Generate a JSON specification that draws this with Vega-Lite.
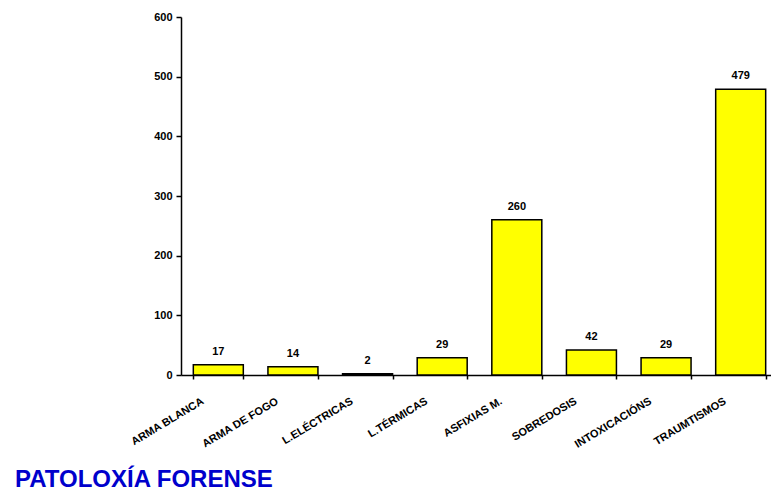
{
  "$schema": "https://vega.github.io/schema/vega-lite/v6.json",
  "autosize": {"type": "none"},
  "padding": {"left": 181, "top": 17, "right": 0, "bottom": 114},
  "width": 590,
  "height": 358,
  "background": "white",
  "title": {
    "text": "PATOLOXÍA FORENSE",
    "orient": "bottom",
    "anchor": "start",
    "frame": "group",
    "dx": -166,
    "offset": 19,
    "font": "Liberation Sans",
    "fontSize": 24,
    "fontWeight": "bold",
    "color": "#0000CC"
  },
  "config": {
    "view": {"stroke": null},
    "font": "Liberation Sans"
  },
  "data": {
    "values": [
      {"categoria": "ARMA BLANCA", "valor": 17},
      {"categoria": "ARMA DE FOGO", "valor": 14},
      {"categoria": "L.ELÉCTRICAS", "valor": 2},
      {"categoria": "L.TÉRMICAS", "valor": 29},
      {"categoria": "ASFIXIAS M.", "valor": 260},
      {"categoria": "SOBREDOSIS", "valor": 42},
      {"categoria": "INTOXICACIÓNS", "valor": 29},
      {"categoria": "TRAUMTISMOS", "valor": 479}
    ]
  },
  "encoding": {
    "x": {
      "field": "categoria",
      "type": "nominal",
      "sort": null,
      "scale": {"range": [0, 597], "paddingInner": 0.33, "paddingOuter": 0.165},
      "axis": {
        "title": null,
        "tickBand": "extent",
        "tickSize": 4,
        "tickColor": "#000000",
        "tickWidth": 1.5,
        "domainColor": "#000000",
        "domainWidth": 1.5,
        "labelAngle": -31,
        "labelAlign": "right",
        "labelBaseline": "top",
        "labelOffset": -19,
        "labelPadding": 16,
        "labelFont": "Liberation Sans",
        "labelFontSize": 11,
        "labelFontWeight": "bold",
        "labelColor": "#000000"
      }
    },
    "y": {
      "field": "valor",
      "type": "quantitative",
      "scale": {"domain": [0, 600], "nice": false},
      "axis": {
        "title": null,
        "values": [0, 100, 200, 300, 400, 500, 600],
        "grid": false,
        "tickSize": 5,
        "tickColor": "#000000",
        "tickWidth": 1.5,
        "domainColor": "#000000",
        "domainWidth": 1.5,
        "labelPadding": 4,
        "labelFont": "Liberation Sans",
        "labelFontSize": 11,
        "labelFontWeight": "bold",
        "labelColor": "#000000"
      }
    }
  },
  "layer": [
    {
      "mark": {"type": "bar", "fill": "#FFFF00", "stroke": "#000000", "strokeWidth": 1.5}
    },
    {
      "mark": {
        "type": "text",
        "baseline": "alphabetic",
        "dy": -10,
        "font": "Liberation Sans",
        "fontSize": 11,
        "fontWeight": "bold",
        "color": "#000000"
      },
      "encoding": {"text": {"field": "valor", "type": "quantitative"}}
    }
  ]
}
